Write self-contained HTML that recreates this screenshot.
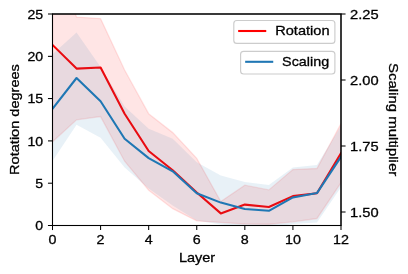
<!DOCTYPE html>
<html><head><meta charset="utf-8"><title>Rotation and scaling per layer</title>
<style>
html,body{margin:0;padding:0;background:#fff;}
body{width:408px;height:274px;overflow:hidden;}
svg{display:block;}
text{font-family:"Liberation Sans",sans-serif;font-size:13.2px;fill:#000;stroke:#000;stroke-width:0.3px;}
</style></head><body>
<svg width="408" height="274" viewBox="0 0 408 274">
<rect x="0" y="0" width="408" height="274" fill="#fff"/>
<defs><filter id="gs" x="0" y="0" width="408" height="274" filterUnits="userSpaceOnUse" color-interpolation-filters="sRGB"><feColorMatrix type="saturate" values="0"/></filter><clipPath id="ax"><rect x="52.5" y="14.0" width="288.5" height="211.5"/></clipPath></defs>
<g clip-path="url(#ax)">
<polygon points="52.50,-45.00 76.54,17.10 100.58,18.60 124.62,70.00 148.67,113.70 172.71,132.60 196.75,158.30 220.79,201.50 244.83,185.20 268.88,189.90 292.92,169.60 316.96,168.50 341.00,123.50 341.00,182.70 316.96,218.50 292.92,221.80 268.88,224.20 244.83,224.00 220.79,222.40 196.75,220.90 172.71,208.70 148.67,190.20 124.62,161.20 100.58,116.60 76.54,119.80 52.50,141.80" fill="#ff0000" fill-opacity="0.1" stroke="#ff0000" stroke-opacity="0.1" stroke-width="1.35" stroke-linejoin="miter"/>
<polyline points="52.50,44.90 76.54,68.60 100.58,67.50 124.62,113.70 148.67,151.00 172.71,170.20 196.75,192.50 220.79,213.40 244.83,204.60 268.88,207.00 292.92,196.10 316.96,193.30 341.00,153.30" fill="none" stroke="#ff0000" stroke-width="2.08" stroke-linejoin="round" stroke-linecap="square"/>
<polygon points="52.50,54.20 76.54,32.50 100.58,67.00 124.62,106.50 148.67,128.80 172.71,138.70 196.75,162.30 220.79,175.40 244.83,181.90 268.88,184.90 292.92,167.60 316.96,165.00 341.00,126.00 341.00,187.30 316.96,222.60 292.92,224.00 268.88,228.00 244.83,227.00 220.79,224.60 196.75,220.50 172.71,205.50 148.67,188.50 124.62,167.50 100.58,137.70 76.54,124.80 52.50,161.00" fill="#1f77b4" fill-opacity="0.1" stroke="none"/>
<polyline points="52.50,108.90 76.54,78.00 100.58,101.30 124.62,138.75 148.67,158.10 172.71,171.30 196.75,193.30 220.79,202.60 244.83,209.00 268.88,210.80 292.92,197.40 316.96,193.10 341.00,156.80" fill="none" stroke="#1f77b4" stroke-width="2.08" stroke-linejoin="round" stroke-linecap="square"/>
</g>
<rect x="52.5" y="14.0" width="288.5" height="211.5" fill="none" stroke="#000" stroke-width="1.04"/>
<rect x="52.5" y="14.0" width="288.5" height="211.5" fill="none" stroke="#000" stroke-width="1.04"/>
<g stroke="#000" stroke-width="1.04">
<line x1="47.95" y1="14.0" x2="52.5" y2="14.0"/><line x1="47.95" y1="56.35" x2="52.5" y2="56.35"/><line x1="47.95" y1="98.55" x2="52.5" y2="98.55"/><line x1="47.95" y1="140.9" x2="52.5" y2="140.9"/><line x1="47.95" y1="183.2" x2="52.5" y2="183.2"/><line x1="47.95" y1="225.5" x2="52.5" y2="225.5"/><line x1="341.0" y1="14.0" x2="345.55" y2="14.0"/><line x1="341.0" y1="80.0" x2="345.55" y2="80.0"/><line x1="341.0" y1="146.0" x2="345.55" y2="146.0"/><line x1="341.0" y1="212.0" x2="345.55" y2="212.0"/><line x1="52.50" y1="225.5" x2="52.50" y2="230.05"/><line x1="100.58" y1="225.5" x2="100.58" y2="230.05"/><line x1="148.67" y1="225.5" x2="148.67" y2="230.05"/><line x1="196.75" y1="225.5" x2="196.75" y2="230.05"/><line x1="244.83" y1="225.5" x2="244.83" y2="230.05"/><line x1="292.92" y1="225.5" x2="292.92" y2="230.05"/><line x1="341.00" y1="225.5" x2="341.00" y2="230.05"/>
</g>
<g filter="url(#gs)">
<text x="43.2" y="18.75" text-anchor="end" textLength="15.70" lengthAdjust="spacingAndGlyphs">25</text>
<text x="43.2" y="61.10" text-anchor="end" textLength="15.70" lengthAdjust="spacingAndGlyphs">20</text>
<text x="43.2" y="103.30" text-anchor="end" textLength="15.70" lengthAdjust="spacingAndGlyphs">15</text>
<text x="43.2" y="145.65" text-anchor="end" textLength="15.70" lengthAdjust="spacingAndGlyphs">10</text>
<text x="43.2" y="187.95" text-anchor="end" textLength="7.85" lengthAdjust="spacingAndGlyphs">5</text>
<text x="43.2" y="230.25" text-anchor="end" textLength="7.85" lengthAdjust="spacingAndGlyphs">0</text>
<text x="350.0" y="18.90" text-anchor="start" textLength="28.59" lengthAdjust="spacingAndGlyphs">2.25</text>
<text x="350.0" y="84.90" text-anchor="start" textLength="28.59" lengthAdjust="spacingAndGlyphs">2.00</text>
<text x="350.0" y="150.90" text-anchor="start" textLength="28.59" lengthAdjust="spacingAndGlyphs">1.75</text>
<text x="350.0" y="216.90" text-anchor="start" textLength="28.59" lengthAdjust="spacingAndGlyphs">1.50</text>
<text x="52.50" y="244.4" text-anchor="middle" textLength="7.95" lengthAdjust="spacingAndGlyphs">0</text>
<text x="100.58" y="244.4" text-anchor="middle" textLength="7.95" lengthAdjust="spacingAndGlyphs">2</text>
<text x="148.67" y="244.4" text-anchor="middle" textLength="7.95" lengthAdjust="spacingAndGlyphs">4</text>
<text x="196.75" y="244.4" text-anchor="middle" textLength="7.95" lengthAdjust="spacingAndGlyphs">6</text>
<text x="244.83" y="244.4" text-anchor="middle" textLength="7.95" lengthAdjust="spacingAndGlyphs">8</text>
<text x="292.92" y="244.4" text-anchor="middle" textLength="15.90" lengthAdjust="spacingAndGlyphs">10</text>
<text x="341.00" y="244.4" text-anchor="middle" textLength="15.90" lengthAdjust="spacingAndGlyphs">12</text>
<text x="197" y="262.3" text-anchor="middle" textLength="36.25" lengthAdjust="spacingAndGlyphs">Layer</text>
<text transform="translate(19.2 119.5) rotate(-90)" text-anchor="middle" textLength="110.8" lengthAdjust="spacingAndGlyphs">Rotation degrees</text>
<text transform="translate(389.1 119.6) rotate(90)" text-anchor="middle" textLength="113.2" lengthAdjust="spacingAndGlyphs">Scaling multiplier</text>
</g>
<rect x="233.8" y="20.5" width="101.1" height="22.9" rx="3" ry="3" fill="#fff" fill-opacity="0.8" stroke="#cccccc" stroke-width="1.15"/>
<line x1="239.2" y1="31" x2="265.2" y2="31" stroke="#ff0000" stroke-width="2.08" stroke-linecap="square"/>
<g filter="url(#gs)"><text x="275.2" y="35.3" textLength="54.36" lengthAdjust="spacingAndGlyphs">Rotation</text></g>
<rect x="240.6" y="51.3" width="94.3" height="22.7" rx="3" ry="3" fill="#fff" fill-opacity="0.8" stroke="#cccccc" stroke-width="1.15"/>
<line x1="246.2" y1="61.8" x2="272.2" y2="61.8" stroke="#1f77b4" stroke-width="2.08" stroke-linecap="square"/>
<g filter="url(#gs)"><text x="282.1" y="66.1" textLength="47.06" lengthAdjust="spacingAndGlyphs">Scaling</text></g>
</svg>
</body></html>
